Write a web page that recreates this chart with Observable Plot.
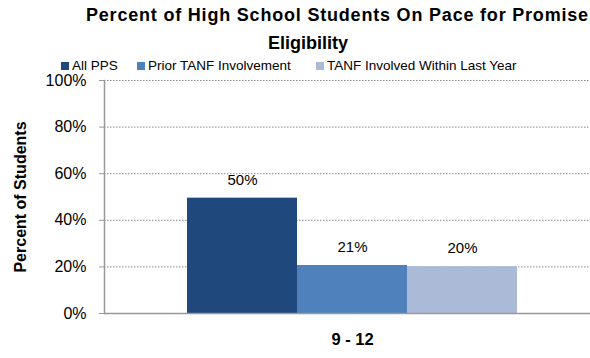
<!DOCTYPE html>
<html><head><meta charset="utf-8">
<script src="https://cdn.jsdelivr.net/npm/d3@7"></script>
<script src="https://cdn.jsdelivr.net/npm/@observablehq/plot@0.6"></script>
<style>
body{margin:0;background:#fff;font-family:"Liberation Sans",Arial,sans-serif;}
#wrap{position:relative;width:590px;height:358px;overflow:hidden;}
.t{position:absolute;font-weight:bold;font-size:18px;color:#000;white-space:nowrap;line-height:20px;}
.lg{position:absolute;top:58px;font-size:13.5px;color:#000;white-space:nowrap;line-height:16px;}
.sw{display:inline-block;width:8px;height:8px;margin-right:3px;vertical-align:0px;}
#chart{position:absolute;left:0;top:0;}
</style></head>
<body><div id="wrap"><div id="chart"></div></div>
<script>
const titleLines = ["Percent of High School Students On Pace for Promise", "Eligibility"];
const grades = ["9 - 12"];
const series = ["All PPS", "Prior TANF Involvement", "TANF Involved Within Last Year"];
const values = [0.495, 0.206, 0.201];
const valueLabels = ["50%", "21%", "20%"];
const colors = ["#1F497D", "#4F81BD", "#AABAD7"];
const yTicks = [0, 0.2, 0.4, 0.6, 0.8, 1.0];
const yTitle = "Percent of Students";

const data = series.map((s, i) => ({grade: grades[0], series: s, value: values[i], label: valueLabels[i]}));

const chart = Plot.plot({
  width: 590, height: 358,
  marginTop: 80, marginBottom: 45, marginLeft: 104, marginRight: 0,
  style: {fontFamily: '"Liberation Sans", Arial, sans-serif', fontSize: "15px", color: "#000", background: "transparent", overflow: "visible"},
  x: {domain: series, range: [187, 517], padding: 0, axis: null},
  y: {domain: [0, 1], axis: null},
  color: {domain: series, range: colors},
  marks: [
    Plot.gridY(yTicks.filter(d => d > 0), {stroke: "#888", strokeOpacity: 1, strokeDasharray: "1.5,1.5"}),
    Plot.barY(data, {x: "series", y: "value", fill: "series"}),
    Plot.ruleY([0], {stroke: "#999", strokeWidth: 1.5}),
    Plot.frame({anchor: "left", stroke: "#999", strokeWidth: 1.5}),
    Plot.axisY({ticks: yTicks, tickFormat: d3.format(".0%"), tickSize: 5, tickPadding: 13, stroke: "#999", label: null, fontSize: 16}),
    Plot.text(data, {x: "series", y: "value", text: "label", dy: -18, fontSize: 15}),
    Plot.text(grades, {x: () => series[1], text: d => d, frameAnchor: "bottom", dy: 31, fontWeight: "bold", fontSize: 16.5}),
    Plot.text([yTitle], {frameAnchor: "left", textAnchor: "middle", rotate: -90, dx: -84, fontWeight: "bold", fontSize: 16})
  ]
});
document.getElementById("chart").appendChild(chart);

const wrap = document.getElementById("wrap");
const t1 = document.createElement("div"); t1.className = "t"; t1.style.left = "86px"; t1.style.top = "5px"; t1.style.letterSpacing = "0.8px"; t1.textContent = titleLines[0]; wrap.appendChild(t1);
const t2 = document.createElement("div"); t2.className = "t"; t2.style.left = "0px"; t2.style.width = "616px"; t2.style.textAlign = "center"; t2.style.top = "33px"; t2.textContent = titleLines[1]; wrap.appendChild(t2);
const legendX = [61, 137, 316];
series.forEach((s, i) => {
  const d = document.createElement("div"); d.className = "lg"; d.style.left = legendX[i] + "px";
  d.innerHTML = `<span class="sw" style="background:${colors[i]}"></span>`;
  d.appendChild(document.createTextNode(s));
  wrap.appendChild(d);
});
</script></body></html>
